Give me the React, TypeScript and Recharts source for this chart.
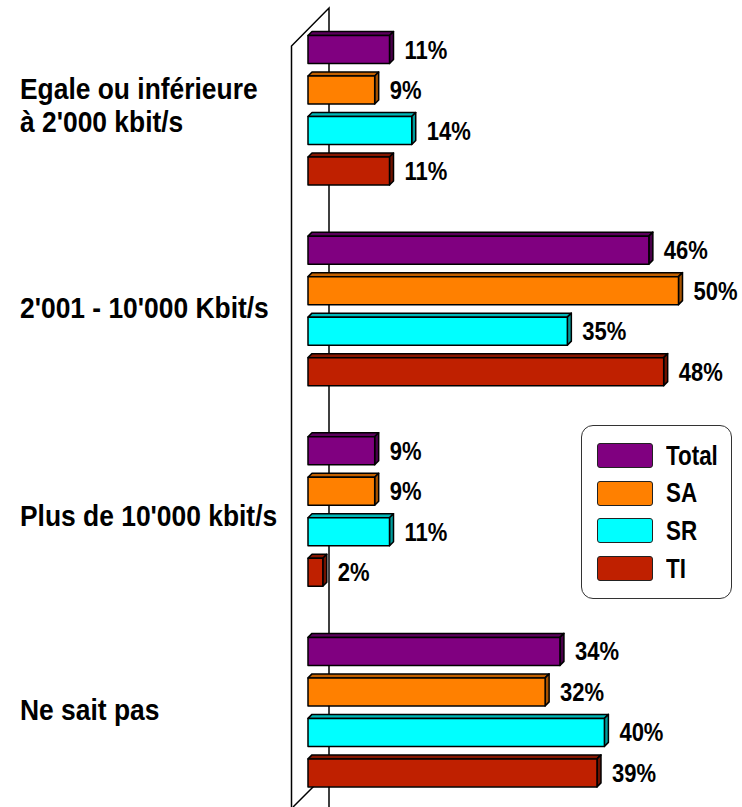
import { BarChart, Bar, XAxis, YAxis, LabelList } from "recharts";

const CATEGORIES = [
  "Egale ou inférieure\nà 2'000 kbit/s",
  "2'001 - 10'000 Kbit/s",
  "Plus de 10'000 kbit/s",
  "Ne sait pas",
];
const TOTAL = [11, 46, 9, 34];
const SA = [9, 50, 9, 32];
const SR = [14, 35, 11, 40];
const TI = [11, 48, 2, 39];

const SERIES = [
  { key: "Total", values: TOTAL, fill: "#800080", top: "#5c005c", side: "#4a004a" },
  { key: "SA", values: SA, fill: "#ff8000", top: "#c26000", side: "#a65200" },
  { key: "SR", values: SR, fill: "#00ffff", top: "#00b8b8", side: "#009c9c" },
  { key: "TI", values: TI, fill: "#bf2000", top: "#861600", side: "#701200" },
];

const data = CATEGORIES.map((name, i) => {
  const row: Record<string, string | number> = { name };
  SERIES.forEach((s) => (row[s.key] = s.values[i]));
  return row;
});

const FONT = "'Liberation Sans', Arial, sans-serif";
const DEPTH = 4;
// baseline shift of each category label, the original isn't perfectly centred
const TICK_DY = [-11, 8, 15, 8];

// front face + top and right faces to fake the 3D look
function Bar3D(props: any) {
  const { x, y, width, height, fill, top, side } = props;
  if (width == null || height == null) return null;
  const d = DEPTH;
  return (
    <g stroke="#000" strokeWidth={1.5} strokeLinejoin="round">
      <polygon
        points={`${x},${y} ${x + d},${y - d} ${x + width + d},${y - d} ${x + width},${y}`}
        fill={top}
      />
      <polygon
        points={`${x + width},${y} ${x + width + d},${y - d} ${x + width + d},${y + height - d} ${x + width},${y + height}`}
        fill={side}
      />
      <rect x={x} y={y} width={width} height={height} fill={fill} />
    </g>
  );
}

function CategoryTick({ y, payload, index }: any) {
  const lines = String(payload.value).split("\n");
  const base = y + (TICK_DY[index] ?? 8);
  return (
    <g transform={`translate(20,${base}) scale(0.88,1)`}>
      <text fontFamily={FONT} fontSize={30} fontWeight="bold" fill="#000" textAnchor="start">
        {lines.map((l, i) => (
          <tspan key={i} x={0} y={i * 33}>
            {l}
          </tspan>
        ))}
      </text>
    </g>
  );
}

function ValueLabel({ x, y, width, height, value }: any) {
  const tx = x + width + 15;
  const ty = y + height / 2 + 9;
  return (
    <g transform={`translate(${tx},${ty}) scale(0.88,1)`}>
      <text fontFamily={FONT} fontSize={25} fontWeight="bold" fill="#000">
        {`${value}%`}
      </text>
    </g>
  );
}

function LegendBox() {
  return (
    <div
      style={{
        position: "absolute",
        left: 581,
        top: 425,
        width: 151,
        height: 174,
        boxSizing: "border-box",
        border: "1.5px solid #333",
        borderRadius: 12,
        background: "#fff",
        padding: "11px 0 0 15px",
        fontFamily: FONT,
      }}
    >
      {SERIES.map((s) => (
        <div key={s.key} style={{ display: "flex", alignItems: "center", height: 37.6 }}>
          <div
            style={{
              width: 56,
              height: 25,
              flex: "none",
              background: s.fill,
              border: "1.5px solid #222",
              borderRadius: 3,
              boxSizing: "border-box",
            }}
          />
          <span
            style={{
              marginLeft: 13,
              fontSize: 28,
              fontWeight: "bold",
              color: "#000",
              lineHeight: 1,
              display: "inline-block",
              transform: "scaleX(0.8)",
              transformOrigin: "left center",
            }}
          >
            {s.key}
          </span>
        </div>
      ))}
    </div>
  );
}

export default function App() {
  return (
    <div
      style={{
        position: "absolute",
        left: 0,
        top: 0,
        width: 742,
        height: 807,
        overflow: "hidden",
        background: "#fff",
      }}
    >
      {/* the 3D wall behind the bars */}
      <svg width={742} height={807} style={{ position: "absolute", left: 0, top: 0 }}>
        <g stroke="#000" strokeWidth={1.5} fill="none">
          <polyline points="291.5,807 291.5,46 329,8 329,807" />
          <line x1={293} y1={807} x2={329} y2={771} />
        </g>
      </svg>
      <div style={{ position: "absolute", left: 0, top: 0 }}>
        <BarChart
          width={742}
          height={812}
          data={data}
          layout="vertical"
          margin={{ top: 9.5, right: 63.5, bottom: 0, left: 0 }}
          barSize={28}
          barGap={12.5}
        >
          <XAxis type="number" domain={[0, 50]} hide />
          <YAxis
            type="category"
            dataKey="name"
            width={308}
            axisLine={false}
            tickLine={false}
            tick={<CategoryTick />}
            interval={0}
          />
          {SERIES.map((s) => (
            <Bar
              key={s.key}
              dataKey={s.key}
              fill={s.fill}
              isAnimationActive={false}
              shape={(p: any) => <Bar3D {...p} top={s.top} side={s.side} />}
            >
              <LabelList dataKey={s.key} content={<ValueLabel />} />
            </Bar>
          ))}
        </BarChart>
      </div>
      <LegendBox />
    </div>
  );
}
